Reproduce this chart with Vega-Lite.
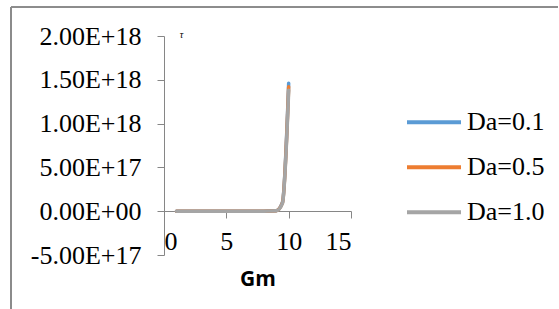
{
  "$schema": "https://vega.github.io/schema/vega-lite/v6.json",
  "autosize": {"type": "none"},
  "width": 187,
  "height": 219,
  "padding": {"left": 164, "top": 36, "right": 208, "bottom": 54},
  "background": "white",
  "config": {"view": {"stroke": null}},
  "data": {"values": [
    {"Gm": 1, "tau": 0, "series": "Da=0.1"},
    {"Gm": 2, "tau": 0, "series": "Da=0.1"},
    {"Gm": 3, "tau": 0, "series": "Da=0.1"},
    {"Gm": 4, "tau": 0, "series": "Da=0.1"},
    {"Gm": 5, "tau": 0, "series": "Da=0.1"},
    {"Gm": 6, "tau": 0, "series": "Da=0.1"},
    {"Gm": 7, "tau": 0, "series": "Da=0.1"},
    {"Gm": 8, "tau": 0, "series": "Da=0.1"},
    {"Gm": 9, "tau": 5e15, "series": "Da=0.1"},
    {"Gm": 9.5, "tau": 1.0e17, "series": "Da=0.1"},
    {"Gm": 10, "tau": 1.46e18, "series": "Da=0.1"},
    {"Gm": 1, "tau": 0, "series": "Da=0.5"},
    {"Gm": 2, "tau": 0, "series": "Da=0.5"},
    {"Gm": 3, "tau": 0, "series": "Da=0.5"},
    {"Gm": 4, "tau": 0, "series": "Da=0.5"},
    {"Gm": 5, "tau": 0, "series": "Da=0.5"},
    {"Gm": 6, "tau": 0, "series": "Da=0.5"},
    {"Gm": 7, "tau": 0, "series": "Da=0.5"},
    {"Gm": 8, "tau": 0, "series": "Da=0.5"},
    {"Gm": 9, "tau": 5e15, "series": "Da=0.5"},
    {"Gm": 9.5, "tau": 0.95e17, "series": "Da=0.5"},
    {"Gm": 10, "tau": 1.42e18, "series": "Da=0.5"},
    {"Gm": 1, "tau": 0, "series": "Da=1.0"},
    {"Gm": 2, "tau": 0, "series": "Da=1.0"},
    {"Gm": 3, "tau": 0, "series": "Da=1.0"},
    {"Gm": 4, "tau": 0, "series": "Da=1.0"},
    {"Gm": 5, "tau": 0, "series": "Da=1.0"},
    {"Gm": 6, "tau": 0, "series": "Da=1.0"},
    {"Gm": 7, "tau": 0, "series": "Da=1.0"},
    {"Gm": 8, "tau": 0, "series": "Da=1.0"},
    {"Gm": 9, "tau": 5e15, "series": "Da=1.0"},
    {"Gm": 9.5, "tau": 0.9e17, "series": "Da=1.0"},
    {"Gm": 10, "tau": 1.38e18, "series": "Da=1.0"}
  ]},
  "layer": [
    {
      "mark": {"type": "rule", "stroke": "#8c8c8c", "strokeWidth": 1, "clip": false},
      "encoding": {
        "x": {"datum": -12.25, "type": "quantitative", "scale": {"domain": [0, 15], "nice": false, "zero": false}},
        "y": {"datum": 2.33e18, "type": "quantitative"},
        "y2": {"datum": -1.2e18}
      }
    },
    {
      "mark": {"type": "rule", "stroke": "#8c8c8c", "strokeWidth": 1, "clip": false},
      "encoding": {
        "x": {"datum": -12.25, "type": "quantitative"},
        "x2": {"datum": 31.6},
        "y": {"datum": 2.33e18, "type": "quantitative"}
      }
    },
    {
      "mark": {"type": "line", "interpolate": "monotone", "strokeWidth": 3.5, "strokeCap": "round", "strokeJoin": "round"},
      "encoding": {
        "x": {
          "field": "Gm", "type": "quantitative",
          "scale": {"domain": [0, 15], "nice": false, "zero": false},
          "axis": {
            "values": [0, 5, 10, 15],
            "offset": -44,
            "grid": false,
            "domainColor": "#868686",
            "tickColor": "#868686",
            "tickSize": 7,
            "labelFont": "Liberation Serif",
            "labelFontSize": 26,
            "labelColor": "black",
            "labelPadding": 10,
            "title": "Gm",
            "titleFont": "Open Sans",
            "titleFontWeight": "bold",
            "titleFontSize": 21,
            "titleColor": "black",
            "titleBaseline": "alphabetic",
            "titleY": 74
          }
        },
        "y": {
          "field": "tau", "type": "quantitative",
          "scale": {"domain": [-5e17, 2e18], "nice": false, "zero": false},
          "axis": {
            "values": [-5e17, 0, 5e17, 1e18, 1.5e18, 2e18],
            "grid": false,
            "domain": true,
            "domainColor": "#868686",
            "tickColor": "#868686",
            "tickSize": 7,
            "labelFont": "Liberation Serif",
            "labelFontSize": 26,
            "labelColor": "black",
            "labelPadding": 16,
            "labelExpr": "datum.value == 0 ? '0.00E+00' : (datum.value < 0 ? '-' + upper(format(-datum.value, '.2e')) : upper(format(datum.value, '.2e')))",
            "title": "τ",
            "titleFont": "Liberation Serif",
            "titleFontStyle": "italic",
            "titleFontWeight": "normal",
            "titleFontSize": 10,
            "titleColor": "black",
            "titleAngle": 0,
            "titleAlign": "center",
            "titleBaseline": "alphabetic",
            "titleX": 17,
            "titleY": 1
          }
        },
        "color": {
          "field": "series", "type": "nominal",
          "scale": {"domain": ["Da=0.1", "Da=0.5", "Da=1.0"], "range": ["#5B9BD5", "#ED7D31", "#A5A5A5"]},
          "legend": {
            "title": null,
            "orient": "none",
            "legendX": 241,
            "legendY": 64,
            "padding": 0,
            "symbolType": "stroke",
            "symbolSize": 2916,
            "symbolStrokeWidth": 4,
            "clipHeight": 44.5,
            "rowPadding": 0,
            "labelOffset": 4,
            "labelFont": "Liberation Serif",
            "labelFontSize": 26,
            "labelColor": "black"
          }
        }
      }
    }
  ]
}
